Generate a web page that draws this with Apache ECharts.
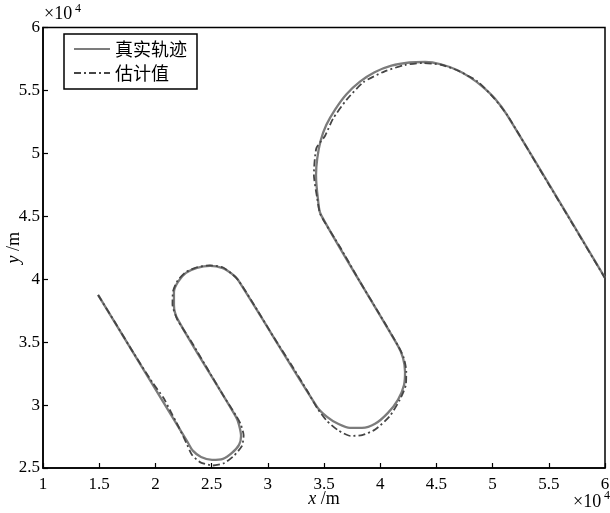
<!DOCTYPE html>
<html>
<head>
<meta charset="utf-8">
<script src="https://cdn.jsdelivr.net/npm/echarts@6/dist/echarts.min.js"></script>
<style>
  html, body { margin: 0; padding: 0; background: #fff; }
  #chart { width: 610px; height: 513px; }
</style>
</head>
<body>
<div id="chart"></div>
<script>
// Positions in units of 1e4 m
const seriesNames = ['真实轨迹', '估计值'];

const xTicks = [1, 1.5, 2, 2.5, 3, 3.5, 4, 4.5, 5, 5.5, 6];
const yTicks = [2.5, 3, 3.5, 4, 4.5, 5, 5.5, 6];

// True trajectory [x, y]
const truePath = [
  [1.490, 3.875], [2.280, 2.716],
  [2.335, 2.636], [2.406, 2.588], [2.504, 2.565], [2.601, 2.573], [2.681, 2.620],
  [2.744, 2.684], [2.762, 2.755], [2.744, 2.843], [2.717, 2.906],
  [2.201, 3.677],
  [2.165, 3.796], [2.165, 3.899], [2.201, 3.979], [2.272, 4.050], [2.370, 4.090],
  [2.486, 4.106], [2.593, 4.090], [2.681, 4.042], [2.735, 3.994],
  [3.438, 2.986],
  [3.527, 2.906], [3.625, 2.851], [3.731, 2.819], [3.838, 2.819], [3.954, 2.851],
  [4.069, 2.938], [4.158, 3.041], [4.212, 3.160], [4.221, 3.264], [4.203, 3.375],
  [4.158, 3.470],
  [3.473, 4.511],
  [3.447, 4.630], [3.429, 4.828], [3.440, 4.960], [3.470, 5.100], [3.520, 5.225],
  [3.600, 5.350], [3.700, 5.470], [3.820, 5.570], [3.950, 5.645], [4.100, 5.697],
  [4.260, 5.722], [4.400, 5.726], [4.540, 5.708], [4.683, 5.662], [4.800, 5.604],
  [4.910, 5.530], [5.020, 5.435], [5.128, 5.305],
  [6.000, 4.010]
];

// Estimated trajectory [x, y]
const estPath = [
  [1.490, 3.875], [1.652, 3.640], [1.812, 3.405], [1.975, 3.178], [2.070, 3.060],
  [2.138, 2.945], [2.205, 2.830],
  [2.275, 2.700], [2.325, 2.605], [2.400, 2.545], [2.510, 2.520], [2.615, 2.540],
  [2.702, 2.600], [2.770, 2.675], [2.785, 2.760], [2.758, 2.850], [2.722, 2.910],
  [2.598, 3.085], [2.463, 3.288], [2.335, 3.482],
  [2.195, 3.680], [2.152, 3.800], [2.157, 3.905], [2.197, 3.988], [2.268, 4.055],
  [2.370, 4.095], [2.486, 4.110], [2.598, 4.095], [2.685, 4.040], [2.740, 3.990],
  [2.905, 3.757], [3.052, 3.540], [3.205, 3.326], [3.345, 3.122],
  [3.440, 2.975], [3.525, 2.875], [3.625, 2.800], [3.735, 2.755], [3.840, 2.762],
  [3.955, 2.805], [4.083, 2.910], [4.172, 3.038], [4.228, 3.160], [4.232, 3.270],
  [4.208, 3.380], [4.160, 3.470],
  [3.990, 3.728], [3.812, 3.992], [3.648, 4.248], [3.468, 4.515],
  [3.440, 4.640], [3.410, 4.830], [3.432, 5.040], [3.510, 5.140], [3.580, 5.275],
  [3.700, 5.425], [3.850, 5.565], [4.040, 5.652], [4.220, 5.702], [4.370, 5.718],
  [4.540, 5.704], [4.690, 5.658], [4.865, 5.572], [5.008, 5.443], [5.132, 5.302],
  [5.418, 4.875], [5.706, 4.447], [6.000, 4.008]
];

const serif = '"Liberation Serif", "DejaVu Serif", serif';
const cjk = '"Noto Sans CJK SC", sans-serif';

const chart = echarts.init(document.getElementById('chart'), null, { renderer: 'canvas' });

chart.setOption({
  backgroundColor: '#ffffff',
  animation: false,
  grid: {
    left: 43, right: 5, top: 27.5, bottom: 45,
    containLabel: false,
    outerBoundsMode: 'none',
    show: true, borderColor: '#000', borderWidth: 1.5, backgroundColor: '#fff'
  },
  legend: {
    data: seriesNames,
    orient: 'vertical',
    left: 64, top: 34,
    itemWidth: 36, itemHeight: 14, itemGap: 4,
    padding: [5, 10, 6, 9],
    borderColor: '#000', borderWidth: 1.5, backgroundColor: '#fff',
    itemStyle: { opacity: 0 },
    textStyle: { fontFamily: cjk, fontSize: 18, color: '#000', lineHeight: 20 }
  },
  xAxis: {
    type: 'value',
    min: xTicks[0], max: xTicks[xTicks.length - 1], interval: 0.5,
    name: '{i|x} /m',
    nameLocation: 'middle', nameGap: 22,
    nameMoveOverlap: false,
    nameTextStyle: {
      fontFamily: serif, fontSize: 18, color: '#000',
      rich: { i: { fontFamily: serif, fontSize: 18, fontStyle: 'italic', color: '#000' } }
    },
    axisLine: { show: true, lineStyle: { color: '#000', width: 1.5 } },
    axisTick: { show: true, inside: true, length: 5, lineStyle: { color: '#000', width: 1.2 } },
    axisLabel: { fontFamily: serif, fontSize: 17, color: '#000', margin: 8 },
    splitLine: { show: false }
  },
  yAxis: {
    type: 'value',
    min: yTicks[0], max: yTicks[yTicks.length - 1], interval: 0.5,
    name: '{i|y} /m',
    nameLocation: 'middle', nameGap: 20,
    nameMoveOverlap: false,
    nameTextStyle: {
      fontFamily: serif, fontSize: 18, color: '#000',
      rich: { i: { fontFamily: serif, fontSize: 18, fontStyle: 'italic', color: '#000' } }
    },
    axisLine: { show: true, lineStyle: { color: '#000', width: 1.5 } },
    axisTick: { show: true, inside: true, length: 5, lineStyle: { color: '#000', width: 1.2 } },
    axisLabel: { fontFamily: serif, fontSize: 17, color: '#000', margin: 3 },
    splitLine: { show: false }
  },
  graphic: [
    { type: 'text', left: 44, top: 5, style: { text: '×10', font: '18px ' + serif, fill: '#000' } },
    { type: 'text', left: 75, top: 3, style: { text: '4', font: '12px ' + serif, fill: '#000' } },
    { type: 'text', left: 573, top: 493, style: { text: '×10', font: '18px ' + serif, fill: '#000' } },
    { type: 'text', left: 604, top: 490, style: { text: '4', font: '12px ' + serif, fill: '#000' } }
  ],
  series: [
    {
      name: seriesNames[0],
      type: 'line',
      data: truePath,
      showSymbol: false, symbol: 'none',
      smooth: 0.3,
      lineStyle: { color: '#7c7c7c', width: 2.3, type: 'solid' },
      itemStyle: { color: '#7c7c7c' },
      z: 2
    },
    {
      name: seriesNames[1],
      type: 'line',
      data: estPath,
      showSymbol: false, symbol: 'none',
      smooth: 0.2,
      lineStyle: { color: '#454545', width: 1.8, type: [7, 3, 2, 3] },
      itemStyle: { color: '#454545' },
      z: 3
    }
  ]
});
</script>
</body>
</html>
